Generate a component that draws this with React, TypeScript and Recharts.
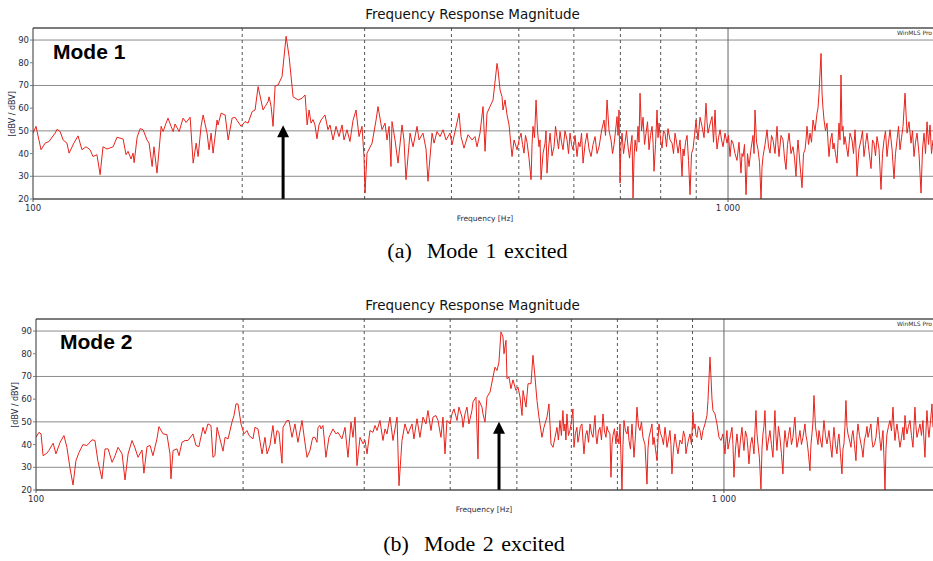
import React from 'react';
import { LineChart, Line, XAxis, YAxis, CartesianGrid, ReferenceLine } from 'recharts';

// Mode 1 excited: frequency [Hz] and magnitude [dBV / dBV]
const freqA = [
  100, 101.0, 102.7, 104.1, 105.4, 107.6, 108.3, 109.4, 110.5, 111.9, 112.7, 114.5, 116.1, 117.6, 119.2, 120.8,
  122.0, 123.6, 124.9, 126.1, 127.8, 130.4, 132.1, 134.8, 136.1, 137.0, 138.4, 139.3, 139.8, 141.2, 142.6, 144.0,
  145.9, 146.9, 148.4, 149.3, 150.8, 152.9, 153.9, 155.4, 156.4, 158.0, 159.1, 160.1, 162.3, 164.4, 166.1, 168.3,
  170.0, 171.7, 172.8, 174.5, 175.7, 178.0, 179.2, 180.4, 181.6, 184.0, 184.6, 186.5, 189.0, 190.9, 193.4, 195.3,
  196.6, 199.3, 201.9, 203.9, 206.7, 208.7, 210.8, 214.3, 215.7, 217.9, 218.6, 220.1, 221.5, 223.0, 225.2, 228.2,
  231.3, 233.6, 236.7, 240.7, 243.9, 246.3, 248.0, 249.6, 251.2, 252.9, 254.5, 256.2, 257.9, 259.7, 263.1, 265.7,
  267.5, 270.2, 272.9, 275.6, 278.4, 280.2, 283.0, 285.8, 288.7, 291.6, 294.5, 297.4, 299.4, 300.4, 302.4, 307.5,
  311.6, 313.6, 317.8, 321.0, 323.1, 325.3, 327.4, 328.5, 331.8, 335.1, 339.6, 341.8, 344.1, 348.7, 352.2, 356.9,
  359.3, 364.0, 367.7, 370.1, 375.1, 377.6, 381.3, 385.2, 389.0, 392.9, 398.1, 400.8, 404.8, 410.2, 412.9, 417.0,
  422.6, 428.2, 432.5, 435.4, 439.7, 444.1, 447.1, 450.0, 454.5, 459.1, 465.2, 466.8, 469.9, 473.0, 474.5, 477.7,
  480.9, 484.1,
  488.9, 492.2, 497.1, 500.4, 503.7, 506.2, 508.7, 511.2, 513.8, 517.2,
  520.7, 522.4, 524.1, 526.7, 529.4, 532.0, 534.6, 536.4, 538.2, 541.8,
  545.4, 547.2, 549.0, 551.7, 554.5, 558.2, 561.9, 564.7, 567.5, 570.3,
  573.2, 576.0, 578.9, 582.7, 586.6, 589.5, 592.5, 595.4, 598.4, 602.4,
  606.4, 609.4, 612.4, 615.5, 618.6, 622.7, 626.8, 631.0, 635.2, 639.4,
  643.7, 648.0, 652.3, 657.7, 663.1, 666.4, 669.8, 674.2, 678.7, 682.1,
  685.5, 688.9, 692.3, 694.6, 696.9, 699.2, 701.5, 703.9, 707.4, 710.9,
  714.4, 718.0, 721.6, 725.2, 727.6, 730.0, 732.4, 734.9, 738.5, 742.2,
  744.6, 747.1, 750.8, 754.6, 758.3, 762.1, 765.9, 769.7, 773.5, 777.4,
  780.0, 782.6, 786.5, 790.4, 793.0, 795.7, 799.6, 803.6, 807.6, 811.6,
  815.6, 819.7, 825.2, 830.7, 834.8, 839.0, 843.2, 847.4, 853.0, 858.7,
  861.5, 864.4, 868.7, 873.0, 877.3, 881.7, 886.1, 890.5, 894.9, 899.4,
  902.4, 905.4, 911.4, 917.5, 923.6, 929.7, 932.8, 935.9, 942.1, 948.4,
  953.1, 957.9, 961.1, 964.3, 969.1, 973.9, 978.7, 983.6, 990.1, 996.6,
  1001.6, 1006.6, 1011.6, 1016.6, 1023.4, 1030.2, 1037.0, 1043.9, 1047.4, 1050.9,
  1056.1, 1061.4, 1066.7, 1072.0, 1079.1, 1086.3, 1089.9, 1093.5, 1099.0, 1104.5,
  1110.0, 1115.5, 1119.2, 1122.9, 1130.4, 1137.9, 1143.6, 1149.3, 1155.0, 1160.7,
  1168.4, 1176.2, 1180.1, 1184.0, 1191.9, 1199.8, 1205.8, 1211.8, 1217.8, 1223.9,
  1232.0, 1240.2, 1246.4, 1252.6, 1256.7, 1260.9, 1269.3, 1277.7, 1284.1, 1290.5,
  1294.8, 1299.1, 1305.6, 1312.1, 1318.6, 1325.2, 1334.0, 1342.9, 1347.3, 1351.8,
  1360.8, 1365.3, 1369.8, 1374.4, 1381.2, 1388.1, 1392.7, 1397.3, 1404.2, 1411.2,
  1415.9, 1420.6, 1427.7, 1434.8, 1439.5, 1444.3, 1449.1, 1453.9, 1458.7, 1463.6,
  1468.4, 1473.3, 1480.6, 1488.0, 1497.9, 1507.9, 1515.4, 1523.0, 1528.0, 1533.1,
  1543.3, 1553.5, 1561.2, 1569.0, 1576.8, 1584.7, 1595.3, 1605.9, 1613.9, 1621.9,
  1630.0, 1638.1, 1649.0, 1660.0, 1668.3, 1676.6, 1684.9, 1693.3, 1701.7, 1710.2,
  1721.6, 1733.1, 1741.7, 1750.4, 1759.1, 1767.9, 1776.7, 1785.6, 1797.4, 1809.4,
  1821.4, 1833.5, 1842.6, 1851.8, 1861.0, 1870.3, 1882.7, 1895.3, 1904.7, 1914.2,
  1923.8, 1933.4, 1943.0, 1952.7, 1962.4, 1972.1,
];
const magA = [
  49, 52, 41.7, 44.6, 45.3, 49, 50.7, 49.7, 46, 44.6, 40.2, 44.6, 47.8, 41.7, 43, 41.7,
  38.7, 39.5, 30.7, 43, 42, 43, 47.2, 46.4, 39.5, 41, 37.6, 40.2, 36, 47.2, 51, 50.5,
  46, 44.6, 34.3, 43, 31.4, 52, 49.7, 53.4, 55.6, 52, 49.7, 53, 49.7, 55.6, 53.7, 56,
  35.8, 44.6, 38.7, 52, 57, 49, 41.7, 49, 40.2, 54.8, 52.6, 57.8, 57, 46, 55.6, 56,
  54.6, 52, 54.1, 53.4, 58.5, 59.2, 69.5, 59.2, 60.7, 62.9, 65, 60.7, 52, 69.8, 70.2, 73.9,
  91.7, 82.7, 65, 63.6, 64.4, 65.8, 52.6, 59.2, 53.4, 55, 52.6, 46.5, 52.6, 54.8, 57, 50.5,
  52.6, 46, 52, 47.5, 52.6, 46, 50.5, 45.3, 54.6, 59.2, 47.5, 52, 38.7, 22.6, 40.2, 44.6,
  54.8, 60.7, 50.5, 53.4, 46, 52, 34.3, 54.1, 46, 35.8, 52.6, 46, 28.5, 49, 43, 52,
  46, 49, 42, 27.8, 49, 44.6, 49.7, 47.5, 50.5, 46, 49, 43.9, 49.7, 57.8, 47.5, 42.4,
  48.3, 46, 47.5, 43, 49, 60.7, 41, 57.8, 60.7, 63.6, 79.7, 76.8, 68, 65, 59.2, 63.6,
  57, 52.6,
  38.7, 46, 41.7, 46, 49, 44, 40.2, 48, 45, 38,
  28.5, 44, 52, 47, 63.6, 50, 43, 46, 28.5, 40,
  44.6, 50, 31.4, 42, 49, 39, 43, 52, 47, 42,
  49.7, 45, 41.7, 50, 46, 40, 49, 44, 41.7, 48,
  38.7, 45, 43, 49, 35.8, 44, 49, 42, 38.7, 44,
  47.5, 40, 43, 50, 54.8, 48, 63.6, 50, 46, 40,
  44, 50, 56.3, 48, 59.2, 27, 44, 49, 40, 45,
  50, 43, 38, 44.6, 48, 20.4, 38, 46, 41, 52,
  45, 66.6, 50, 56, 44, 49, 54, 41.7, 48, 52,
  45, 32.2, 44, 59.2, 47, 53.4, 46, 42.4, 50, 49,
  43, 51, 46, 44.6, 40, 49, 45, 40.2, 46, 30,
  42, 39, 45, 48, 37, 21.9, 40, 42, 48, 54.8,
  50, 46, 56, 52, 47, 62.2, 54, 49, 53, 56.3,
  45, 59.2, 48, 42, 47, 50.5, 46, 43, 49, 44.6,
  48, 38.7, 46, 44.6, 40, 37, 45, 31.4, 40, 38.7,
  44, 21.9, 40, 34.3, 42, 48, 40, 59.2, 45, 41.7,
  36, 20, 34, 38.7, 44, 50.5, 43, 40.2, 48, 46,
  40, 52, 44, 38.7, 48, 46, 38, 33, 44, 49,
  40, 43, 38, 30, 40, 46, 35, 25, 40, 41.7,
  46, 52, 44, 49, 45, 54.8, 50, 57.8, 60, 66.6,
  84.1, 66.6, 60, 54.8, 50, 53.4, 45, 38.7, 46, 49,
  42, 44.6, 40, 35.8, 45, 53.4, 46, 74.6, 50, 52,
  44, 47.5, 43, 38.7, 49, 46, 40, 50.5, 42, 30,
  42, 46, 50, 38.7, 44, 49, 41, 33.4, 46, 44.6,
  39, 47.5, 42, 24.2, 40, 46, 50, 38.7, 45, 50.5,
  42, 28.9, 40, 46, 52, 41.7, 47, 52, 66.6, 49,
  54, 44.6, 50, 38.7, 45, 49, 40, 22.6, 42, 49,
  40, 54, 44, 52.6, 40, 46,
];

// Mode 2 excited
const freqB = [
  100, 101.0, 101.7, 102.4, 103.7, 104.4, 105.9, 106.9, 108.4, 109.8, 110.9, 112.0, 113.2, 114.3, 115.5, 117.0,
  118.6, 120.6, 121.8, 123.0, 124.7, 126.0, 127.3, 129.0, 130.3, 131.6, 133.4, 134.7, 136.1, 137.9, 139.3, 140.7,
  142.6, 143.5, 145.0, 146.5, 147.9, 149.9, 150.9, 153.0, 155.0, 156.6, 157.1, 158.2, 160.3, 161.4, 163.0, 164.7,
  166.3, 169.1, 170.8, 172.5, 174.9, 176.1, 177.8, 179.6, 180.8, 182.0, 183.3, 185.1, 187.0, 188.3, 190.2, 192.7,
  194.0, 195.3, 196.6, 198.6, 200.6, 202.6, 204.0, 206.7, 208.1, 210.2, 213.1, 215.2, 216.7, 218.8, 221.0, 222.5,
  224.0, 225.5, 227.8, 228.6, 231.6, 233.2, 235.6, 237.9, 240.3, 243.6, 245.2, 247.7, 250.2, 251.9, 252.7, 254.4,
  256.1, 257.0, 258.7, 259.6, 261.3, 263.9, 266.6, 270.2, 272.9, 274.7, 278.4, 281.3, 284.1, 287.0, 288.9, 290.9,
  292.8, 295.8, 298.8, 300.8, 302.8, 305.8, 308.9, 311.0, 313.1, 316.2, 319.4, 321.6, 323.7, 327.0, 330.3, 334.8,
  337.0, 340.4, 343.8, 347.3, 352.0, 354.3, 357.9, 361.5, 365.2, 368.8, 371.3, 375.1, 377.6, 381.4, 384.0, 387.8,
  390.4, 393.1, 395.7, 399.7, 402.4, 405.1, 409.2, 411.9, 416.1, 417.5, 420.3, 423.1, 425.9, 430.2, 431.7, 436.0,
  439.0, 440.4, 444.9, 446.4, 449.4, 452.4, 457.0, 461.6, 464.7, 467.8, 470.9, 474.1, 477.3, 478.9, 482.1, 483.7,
  487.0, 490.2, 493.5, 498.5, 501.9, 505.3, 508.7, 510.4, 515.5, 519.0, 524.2, 527.7, 531.3, 534.8, 538.4, 543.8,
  547.5, 553.0, 556.7, 560.5, 564.3, 568.1, 571.8, 574.6, 577.5, 580.4,
  583.3, 585.3, 587.3, 589.2, 591.2, 594.2, 597.2, 600.2, 603.2, 605.3,
  608.3, 611.3, 613.3, 615.4, 618.5, 621.7, 623.8, 625.9, 629.1, 632.3,
  635.5, 638.7, 641.9, 645.1, 647.2, 649.4, 651.5, 653.7, 657.0, 660.4,
  663.7, 667.0, 670.3, 673.7, 676.0, 678.3, 682.8, 685.1, 687.4, 689.7,
  693.1, 696.6, 699.0, 701.4, 703.7, 706.1, 710.8, 713.2, 715.6, 719.2,
  722.8, 725.2, 727.7, 731.3, 735.0, 737.5, 740.0, 743.7, 747.4, 751.2,
  755.0, 758.7, 762.5, 767.7, 772.9, 775.4, 778.0, 781.9, 785.9, 788.5,
  791.2, 795.2, 799.2, 801.8, 804.5, 808.5, 812.6, 816.7, 820.9, 823.6,
  826.3, 830.4, 834.6, 837.4, 840.2, 844.4, 848.7, 853.0, 857.3, 863.1,
  868.9, 873.3, 877.7, 880.6, 883.6, 888.0, 892.5, 896.9, 901.4, 904.4,
  907.5, 910.5, 913.5, 918.1, 922.8, 927.4, 932.1, 938.4, 944.7, 947.9,
  954.3, 957.5, 960.7, 963.9, 970.4, 976.9, 983.5, 990.0, 996.7, 1000.0,
  1003.4, 1006.7, 1010.1, 1013.5, 1016.9, 1022.0, 1027.2, 1030.6, 1034.0, 1039.2,
  1044.5, 1048.0, 1051.5, 1056.8, 1062.1, 1065.6, 1069.2, 1074.6, 1080.0, 1083.6,
  1087.3, 1092.8, 1098.3, 1101.9, 1105.6, 1109.3, 1113.0, 1116.7, 1120.5, 1126.1,
  1131.8, 1135.6, 1139.4, 1143.2, 1147.0, 1150.8, 1154.7, 1160.5, 1166.4, 1172.2,
  1178.1, 1182.0, 1186.0, 1190.0, 1194.0, 1200.0, 1206.0, 1212.1, 1218.2, 1222.3,
  1226.4, 1230.5, 1234.7, 1240.9, 1247.1, 1253.4, 1259.7, 1263.9, 1268.1, 1272.4,
  1276.7, 1283.1, 1289.6, 1296.1, 1302.6, 1306.9, 1311.3, 1315.7, 1320.1, 1326.8,
  1333.5, 1338.0, 1342.5, 1347.0, 1351.5, 1358.3, 1365.1, 1369.7, 1374.3, 1381.2,
  1388.2, 1392.8, 1397.5, 1404.5, 1411.6, 1416.3, 1421.1, 1428.2, 1435.4, 1440.2,
  1445.0, 1452.3, 1459.6, 1464.5, 1469.4, 1476.8, 1484.2, 1489.2, 1494.2, 1499.2,
  1504.3, 1509.3, 1514.4, 1522.0, 1529.7, 1534.8, 1540.0, 1547.7, 1555.5, 1560.7,
  1565.9, 1573.8, 1581.8, 1587.1, 1592.4, 1600.4, 1608.5, 1613.9, 1619.3, 1627.4,
  1635.6, 1641.1, 1646.6, 1654.9, 1663.2, 1668.8, 1674.4, 1682.8, 1691.3, 1697.0,
  1702.7, 1708.4, 1714.1, 1719.8, 1725.6, 1734.3, 1743.0, 1751.8, 1760.6, 1766.5,
  1772.4, 1778.3, 1784.3, 1793.3, 1802.3, 1811.4, 1820.5, 1826.6, 1832.7, 1838.8,
  1845.0, 1854.3, 1863.6, 1873.0, 1882.4, 1888.7, 1895.0, 1901.4, 1907.8, 1917.4,
  1927.0, 1936.7, 1946.5, 1953.0, 1959.5, 1966.1, 1972.7, 1979.3, 1986.0, 1996.0,
  2006.1, 2012.8,
];
const magB = [
  43.2, 45.4, 44.7, 35.1, 36.2, 37.4, 40.6, 35.9, 41, 44, 38.8, 30, 22.2, 32.9, 36.6, 40,
  39.6, 42.1, 41.8, 32.9, 24.9, 38.1, 38.1, 32.2, 35.1, 38.8, 35.9, 24.4, 35.9, 41.8, 38.5, 34.4,
  37.6, 27.4, 39.1, 39.6, 35.1, 42.5, 47.9, 44.7, 44.4, 35.9, 24.9, 37.4, 38.1, 35.1, 41, 41.8,
  41.8, 44.7, 39.6, 39.1, 47.6, 44.7, 49.1, 48.4, 34.4, 35.1, 47.6, 42.5, 37.1, 43.2, 42.5, 49.9,
  52.8, 57.9, 57.9, 49.1, 44.7, 46.2, 44, 42.5, 47.6, 46.9, 35.9, 43.2, 35.9, 39.6, 48.4, 40.3,
  46.2, 45.4, 31.8, 47.6, 50.6, 50.6, 43.2, 49.1, 41, 50.6, 44, 34.4, 37.4, 41.8, 43.2, 43.2,
  41, 47.6, 48.4, 46.9, 48.4, 34.4, 43.2, 46.9, 44.7, 45.4, 42.5, 47.6, 34.4, 49.9, 43.2, 52.1,
  30.7, 43.2, 40.3, 41.8, 35.9, 46.2, 45.4, 48.4, 46.2, 50.6, 41.8, 46.9, 44.7, 52.1, 41.8, 52.1,
  21.9, 41.8, 49.1, 44.7, 49.1, 42.5, 51.4, 43.2, 52.1, 49.1, 55, 46.2, 52.1, 52.8, 50.6, 43.2,
  52.1, 35.9, 50.6, 49.1, 53.5, 55.7, 50.6, 56.5, 52.1, 47.6, 53.5, 56.5, 49.1, 55, 58.7, 60.9,
  33.7, 59.4, 56.5, 53.5, 49.9, 60.9, 63.1, 69.7, 74.1, 72.6, 76.3, 89.6, 87.4, 80, 85.9, 69,
  69.7, 64.6, 68.5, 63.8, 65.3, 60.9, 52.8, 63.8, 56.5, 66.8, 66.8, 79.3, 69.7, 59.4, 52.1, 43.2,
  47.6, 52.1, 57.9, 40.3, 38.8, 43.2, 47.6, 42, 50.6, 44,
  55, 46, 49.1, 42, 53.5, 44, 46.2, 50, 55.7, 38.8,
  45, 47.6, 41, 43.2, 48, 49.1, 42, 35.9, 44, 46.2,
  41, 49.1, 45, 43.2, 48, 52.8, 44, 40.3, 46, 47.6,
  42, 53.5, 46, 43.2, 48, 46.2, 44.7, 25.6, 40, 44,
  47, 40.3, 46, 43.2, 40.3, 49.1, 20, 40, 50.6, 46,
  44.7, 48, 41.8, 38, 49.1, 42, 34.4, 44, 56.5, 48,
  46.2, 50, 43.2, 40, 22.6, 38, 43.2, 46, 49.1, 40,
  43.2, 38, 32.9, 42, 49.1, 45, 43.2, 40, 47.6, 44,
  38.8, 42, 46.2, 40, 27.1, 38, 44.7, 40, 35.9, 42,
  40.3, 46, 43.2, 36, 38.8, 42, 44.7, 40, 54.3, 47,
  49.1, 44, 43.2, 48, 46.2, 42, 46.2, 49.1, 52.8, 59.4,
  78.5, 69.7, 60, 55, 53.5, 49.1, 43.2, 41.8, 44.7, 40,
  35.9, 42, 46.2, 38, 40.3, 44, 47.6, 40, 25.6, 38,
  44.7, 40, 34.4, 42, 47.6, 42, 37.4, 46, 43.2, 38,
  31.5, 40, 43.2, 40, 35.9, 46, 55, 45, 40.3, 34,
  20.4, 38, 44.7, 48, 55, 44, 37.4, 42, 46.2, 40,
  34.4, 45, 55, 44, 37.4, 48, 43.2, 36, 27.1, 40,
  46.2, 42, 38.8, 44, 47.6, 40, 43.2, 48, 52.1, 44,
  38.8, 42, 46.2, 40, 43.2, 46, 49.1, 44, 41.8, 36,
  28.5, 40, 44.7, 50, 61.6, 48, 43.2, 40, 46.2, 42,
  38.8, 45, 50.6, 44, 40.3, 43, 46.2, 40, 34.4, 42,
  47.6, 40, 35.9, 42, 44.7, 36, 27.1, 38, 40.3, 48,
  59.4, 48, 44.7, 42, 38.8, 44, 46.2, 40, 32.9, 44,
  49.1, 44, 40.3, 38, 34.4, 42, 44.7, 48, 43.2, 46,
  49.1, 42, 38.8, 40, 43.2, 48, 52.1, 44, 37.4, 42,
  46.2, 34, 20, 38, 44.7, 48, 50.6, 46, 56.5, 48,
  41.8, 46, 49.1, 44, 38.8, 43, 47.6, 42, 52.8, 48,
  44.7, 48, 50.6, 44, 38.8, 48, 56.5, 48, 43.2, 46,
  49.1, 44, 50.6, 42, 34.4, 46, 55, 48, 43.2, 50,
  57.9, 47.6,
];

const yTicks = [20, 30, 40, 50, 60, 70, 80, 90];
const yTop = 95.3;
const xTicks = [100, 1000];
const dashedFreqs = [200, 300, 400, 500, 600, 700, 800, 900];

const sans = '"DejaVu Sans", sans-serif';
const textColor = '#1f2d44';

const Arrow = (props: any) => {
  const { x1, y1, x2, y2 } = props;
  if (x1 == null) return null;
  return (
    <g>
      <line x1={x1} y1={y1} x2={x2} y2={y2 + 10} stroke="#000" strokeWidth={3} />
      <polygon points={`${x2},${y2} ${x2 - 6},${y2 + 12} ${x2 + 6},${y2 + 12}`} fill="#000" />
    </g>
  );
};

interface PanelProps {
  freq: number[];
  mag: number[];
  top: number;
  axisWidth: number;
  xMax: number;
  mode: string;
  modeX: number;
  modeTop: number;
  arrowFreq: number;
  arrowTip: number;
  yLabelX: number;
  xLabelX: number;
}

function Panel(p: PanelProps) {
  const rows = p.freq.map((f, i) => ({ f, db: p.mag[i] }));
  const plotTop = p.top + 28;
  const plotBottom = p.top + 199;
  return (
    <>
      <div style={{ position: 'absolute', left: 0, width: 945, top: p.top + 6, textAlign: 'center', font: `13.5px ${sans}`, lineHeight: '16px', color: '#111' }}>
        Frequency Response Magnitude
      </div>
      <div style={{ position: 'absolute', left: 0, top: p.top }}>
        <LineChart width={933} height={230} data={rows} margin={{ top: 28, right: 0, bottom: 9, left: 0 }}>
          <CartesianGrid vertical={false} stroke="#8c8c8c" />
          <XAxis
            dataKey="f"
            type="number"
            scale="log"
            domain={[100, p.xMax]}
            ticks={xTicks}
            height={22}
            tickSize={3}
            tickMargin={3}
            tickFormatter={(v: number) => (v === 1000 ? '1 000' : String(v))}
            tick={{ fontSize: 8.5, fill: textColor, fontFamily: sans }}
            axisLine={{ stroke: '#333' }}
            tickLine={{ stroke: '#555' }}
            allowDataOverflow
          />
          <YAxis
            type="number"
            domain={[20, yTop]}
            ticks={yTicks}
            width={p.axisWidth}
            tickSize={3}
            tickMargin={1}
            tick={{ fontSize: 8.5, fill: textColor, fontFamily: sans }}
            axisLine={{ stroke: '#333' }}
            tickLine={{ stroke: '#6a7f9a' }}
            allowDataOverflow
          />
          {dashedFreqs.map((v) => (
            <ReferenceLine key={v} x={v} stroke="#555" strokeDasharray="3 3" />
          ))}
          <ReferenceLine x={1000} stroke="#666" />
          <ReferenceLine y={yTop} stroke="#333" />
          <Line type="linear" dataKey="db" stroke="#e8231c" strokeWidth={1} dot={false} isAnimationActive={false} />
          <ReferenceLine
            segment={[{ x: p.arrowFreq, y: 20 }, { x: p.arrowFreq, y: p.arrowTip }]}
            shape={Arrow}
          />
        </LineChart>
      </div>
      <div style={{ position: 'absolute', left: 870, width: 62, top: plotTop + 1, textAlign: 'right', font: `6px ${sans}`, color: '#333' }}>
        WinMLS Pro
      </div>
      <div style={{ position: 'absolute', left: p.modeX, top: p.modeTop, font: 'bold 21px "Liberation Sans", Arial, sans-serif', lineHeight: '21px', color: '#000' }}>
        {p.mode}
      </div>
      <div
        style={{
          position: 'absolute',
          left: p.yLabelX - 40,
          width: 80,
          top: (plotTop + plotBottom) / 2 - 5,
          textAlign: 'center',
          font: `8px ${sans}`,
          lineHeight: '10px',
          color: textColor,
          transform: 'rotate(-90deg)',
        }}
      >
        [dBV / dBV]
      </div>
      <div style={{ position: 'absolute', left: p.xLabelX - 50, width: 100, top: p.top + 214, textAlign: 'center', font: `7.5px ${sans}`, lineHeight: '10px', color: textColor }}>
        Frequency [Hz]
      </div>
    </>
  );
}

export default function App() {
  return (
    <div style={{ position: 'absolute', left: 0, top: 0, width: 933, height: 561, overflow: 'hidden', background: '#fff' }}>
      <Panel freq={freqA} mag={magA} top={0} axisWidth={33} xMax={1972} mode="Mode 1" modeX={53} modeTop={41}
        arrowFreq={229} arrowTip={52.5} yLabelX={13} xLabelX={485} />
      <Panel freq={freqB} mag={magB} top={291} axisWidth={36} xMax={2013} mode="Mode 2" modeX={60} modeTop={331}
        arrowFreq={471} arrowTip={50} yLabelX={16} xLabelX={484} />
      <div style={{ position: 'absolute', left: 0, width: 955, top: 239, textAlign: 'center', font: '22px "Liberation Serif", serif', lineHeight: '24px', color: '#000', wordSpacing: 2 }}>
        (a)&nbsp;&nbsp;Mode 1 excited
      </div>
      <div style={{ position: 'absolute', left: 0, width: 948, top: 532, textAlign: 'center', font: '22px "Liberation Serif", serif', lineHeight: '24px', color: '#000', wordSpacing: 2 }}>
        (b)&nbsp;&nbsp;Mode 2 excited
      </div>
    </div>
  );
}
